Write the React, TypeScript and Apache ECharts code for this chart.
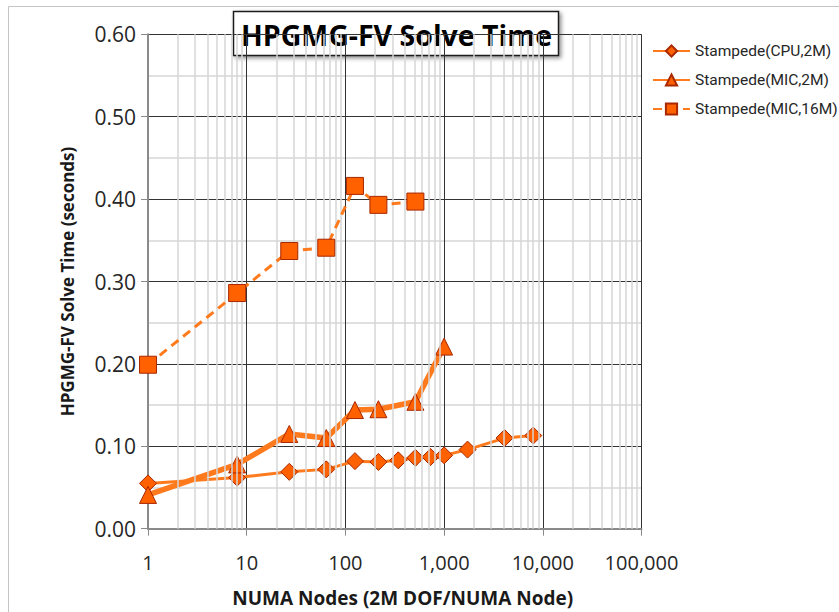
import React, { useEffect, useRef } from "react";
import * as echarts from "echarts";

const cpuNodes = [1, 8, 27, 64, 125, 216, 343, 512, 729, 1000, 1728, 4096, 8000];
const cpu2M = [0.055, 0.062, 0.069, 0.072, 0.082, 0.081, 0.083, 0.086, 0.087, 0.089, 0.096, 0.110, 0.113];

const mic2MNodes = [1, 8, 27, 64, 125, 216, 512, 1000];
const mic2M = [0.041, 0.078, 0.115, 0.110, 0.144, 0.145, 0.154, 0.221];

const mic16MNodes = [1, 8, 27, 64, 125, 216, 512];
const mic16M = [0.199, 0.286, 0.337, 0.341, 0.416, 0.393, 0.397];

const seriesNames = ["Stampede(CPU,2M)", "Stampede(MIC,2M)", "Stampede(MIC,16M)"];

const titleText = "HPGMG-FV Solve Time";
const xAxisTitle = "NUMA Nodes (2M DOF/NUMA Node)";
const yAxisTitle = "HPGMG-FV Solve Time (seconds)";

const LINE = "#FF7A1C";
const FILL = "#FF6000";
const EDGE = "#A82800";
const FONT = "Open Sans";

function pairs(xs: number[], ys: number[]) {
  return xs.map((x, i) => [x, ys[i]]);
}

export default function App() {
  const ref = useRef<HTMLDivElement>(null);
  useEffect(() => {
    if (!ref.current) return;
    const chart = echarts.init(ref.current, null, { renderer: "svg" });

    const minorX: { xAxis: number }[] = [];
    for (let d = 1; d < 100000; d *= 10) {
      for (let k = 2; k <= 9; k++) minorX.push({ xAxis: d * k });
    }

    chart.setOption({
      animation: false,
      backgroundColor: "#ffffff",
      grid: {
        left: 148,
        top: 34.3,
        width: 493.5,
        height: 494.4,
        containLabel: false,
        outerBoundsMode: "none",
      },
      legend: {
        orient: "vertical",
        left: 652,
        top: 43,
        padding: 0,
        itemWidth: 37,
        itemHeight: 14,
        itemGap: 13,
        data: seriesNames,
        textStyle: { fontFamily: "Roboto", fontSize: 15.5, color: "#262626" },
      },
      xAxis: {
        type: "log",
        logBase: 10,
        min: 1,
        max: 100000,
        name: xAxisTitle,
        nameLocation: "middle",
        nameGap: 60,
        nameTextStyle: { fontFamily: FONT, fontWeight: "bold", fontSize: 19, color: "#1a1a1a", padding: [0, 0, 0, 16] },
        axisLine: { show: true, lineStyle: { color: "#8a8a8a", width: 2 } },
        axisTick: { show: true, length: 7, lineStyle: { color: "#8a8a8a", width: 1 } },
        axisLabel: {
          margin: 24,
          fontFamily: FONT,
          fontSize: 20,
          color: "#262626",
          formatter: (v: number) => Math.round(v).toLocaleString("en-US"),
        },
        splitLine: { show: true, lineStyle: { color: "#333333", width: 1 } },
      },
      yAxis: {
        type: "value",
        min: 0,
        max: 0.6,
        interval: 0.1,
        name: yAxisTitle,
        nameLocation: "middle",
        nameGap: 72,
        nameTextStyle: { fontFamily: FONT, fontWeight: "bold", fontSize: 17, color: "#1a1a1a" },
        axisLine: { show: true, lineStyle: { color: "#8a8a8a", width: 2 } },
        axisTick: { show: true, length: 7, lineStyle: { color: "#8a8a8a", width: 1 } },
        axisLabel: {
          margin: 12,
          fontFamily: FONT,
          fontSize: 21,
          color: "#262626",
          formatter: (v: number) => v.toFixed(2),
        },
        splitLine: { show: true, lineStyle: { color: "#333333", width: 1 } },
        minorTick: { show: false, splitNumber: 2 },
        minorSplitLine: { show: true, lineStyle: { color: "#d6d6d6", width: 1.5 } },
      },
      graphic: [
        {
          type: "rect",
          z: 0,
          silent: true,
          shape: { x: 8.5, y: 6.5, width: 900, height: 700 },
          style: { fill: "none", stroke: "#c4c4c4", lineWidth: 1 },
        },
        {
          type: "group",
          z: 100,
          children: [
            {
              type: "rect",
              shape: { x: 233.5, y: 11.5, width: 325, height: 44 },
              style: {
                fill: "#ffffff",
                stroke: "#1a1a1a",
                lineWidth: 1.5,
                shadowBlur: 4,
                shadowOffsetX: 2,
                shadowOffsetY: 2,
                shadowColor: "rgba(0,0,0,0.45)",
              },
            },
            {
              type: "text",
              x: 396.5,
              y: 35,
              style: {
                text: titleText,
                fontFamily: FONT,
                fontWeight: "bold",
                fontSize: 28.5,
                fill: "#000000",
                textAlign: "center",
                textVerticalAlign: "middle",
              },
            },
          ],
        },
      ],
      series: [
        {
          type: "line",
          name: "minor-grid",
          data: [],
          z: 1,
          silent: true,
          markLine: {
            silent: true,
            symbol: "none",
            label: { show: false },
            lineStyle: { color: "#d6d6d6", type: "solid", width: 1.5 },
            data: minorX,
          },
        },
        {
          type: "line",
          name: seriesNames[0],
          z: 3,
          data: pairs(cpuNodes, cpu2M),
          symbol: "diamond",
          symbolSize: 17,
          lineStyle: { color: LINE, width: 3 },
          itemStyle: { color: FILL, borderColor: EDGE, borderWidth: 1 },
          color: LINE,
        },
        {
          type: "line",
          name: seriesNames[1],
          z: 4,
          data: pairs(mic2MNodes, mic2M),
          symbol: "triangle",
          symbolSize: 17,
          lineStyle: { color: LINE, width: 5.5 },
          itemStyle: { color: FILL, borderColor: EDGE, borderWidth: 1 },
          color: LINE,
        },
        {
          type: "line",
          name: seriesNames[2],
          z: 5,
          data: pairs(mic16MNodes, mic16M),
          symbol: "rect",
          symbolSize: 17,
          lineStyle: { color: LINE, width: 3, type: [9, 6] },
          itemStyle: { color: FILL, borderColor: EDGE, borderWidth: 1 },
          color: LINE,
        },
      ],
    });
    return () => chart.dispose();
  }, []);
  return (
    <div
      ref={ref}
      style={{ position: "fixed", left: 0, top: 0, width: 839, height: 612, background: "#fff" }}
    />
  );
}
